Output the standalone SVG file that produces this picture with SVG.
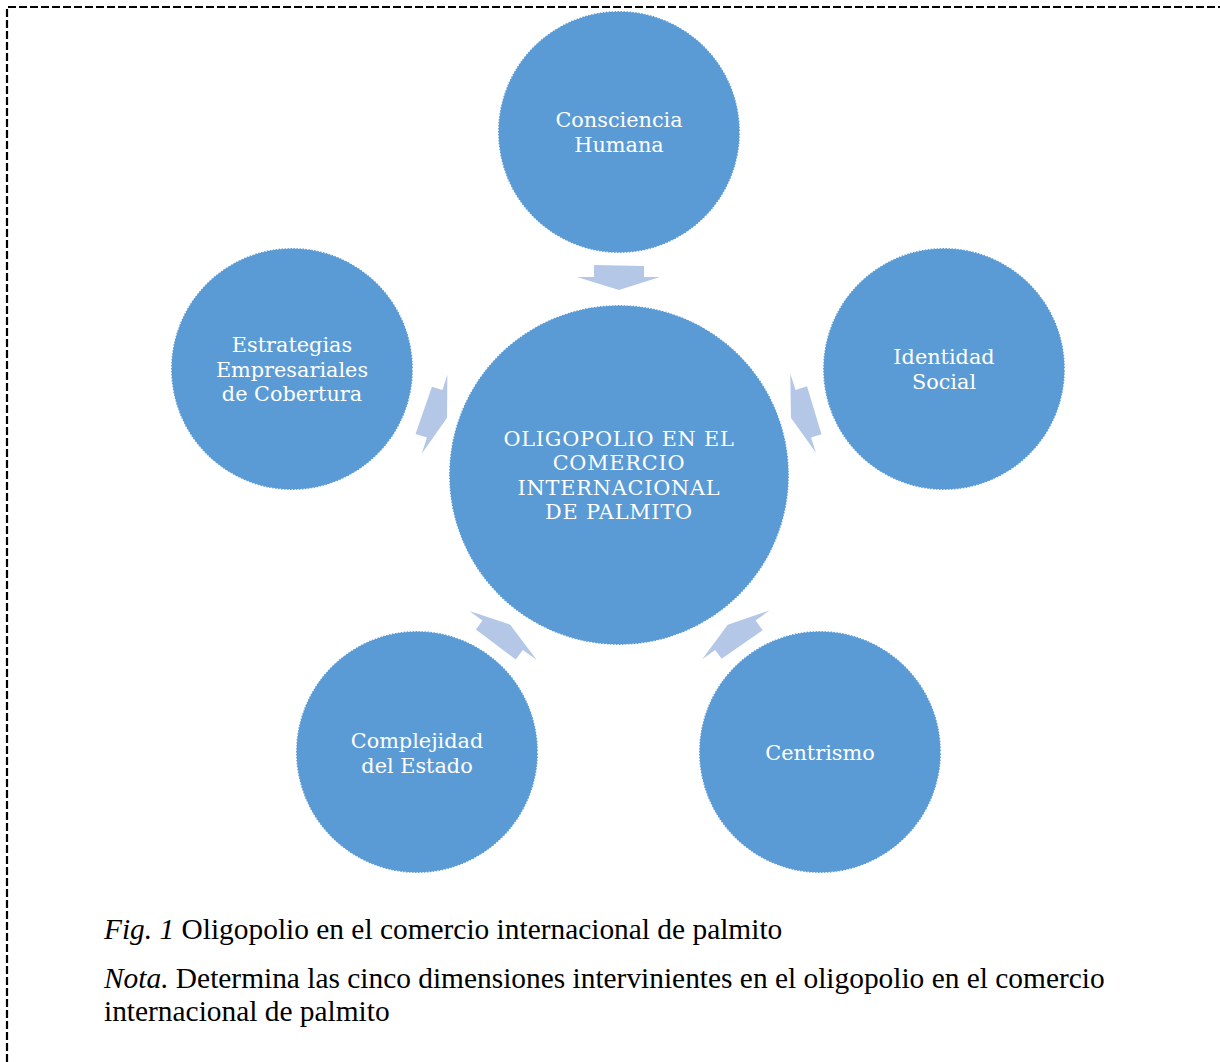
<svg xmlns="http://www.w3.org/2000/svg" width="1220" height="1062" viewBox="0 0 1220 1062">
<style>
.node{fill:#5B9BD5;stroke:#ffffff;stroke-width:1.5;stroke-dasharray:1.5 1.5}
.lbl{font-family:"DejaVu Serif","Liberation Serif",serif;font-size:20.8px;fill:#ffffff;text-anchor:middle}
.caps{letter-spacing:0.8px}
.cap{font-family:"Liberation Serif","Times New Roman",serif;font-size:29.4px;fill:#000000}
.arr{fill:#B4C7E7}
</style>
<defs>
<path id="arrow" d="M594,265 L644,266 L644,277 L660,277 L619,290 L577,277 L594,277 Z"/>
</defs>
<rect x="1" y="1" width="1218" height="1060" fill="#ffffff"/>
<path d="M7,1062 L7,7 L1220,7" fill="none" stroke="#000" stroke-width="2.2" stroke-dasharray="8 3"/>
<g id="connectors">
<use href="#arrow" class="arr"/>
<use href="#arrow" class="arr" transform="translate(-4,0) rotate(72 619 475)"/>
<use href="#arrow" class="arr" transform="rotate(144 619 475)"/>
<use href="#arrow" class="arr" transform="rotate(216 619 475)"/>
<use href="#arrow" class="arr" transform="translate(4,0) rotate(288 619 475)"/>
</g>
<g id="center">
<circle class="node" cx="619" cy="475" r="170"/>
<text class="lbl caps"><tspan x="619" y="445.5">OLIGOPOLIO EN EL</tspan><tspan x="619" y="470">COMERCIO</tspan><tspan x="619" y="494.5">INTERNACIONAL</tspan><tspan x="619" y="519">DE PALMITO</tspan></text>
</g>
<g id="consciencia">
<circle class="node" cx="619" cy="132" r="121"/>
<text class="lbl"><tspan x="619" y="127">Consciencia</tspan><tspan x="619" y="151.5">Humana</tspan></text>
</g>
<g id="identidad">
<circle class="node" cx="944" cy="369" r="121"/>
<text class="lbl"><tspan x="944" y="364">Identidad</tspan><tspan x="944" y="388.5">Social</tspan></text>
</g>
<g id="centrismo">
<circle class="node" cx="820" cy="752" r="121"/>
<text class="lbl" x="820" y="760">Centrismo</text>
</g>
<g id="complejidad">
<circle class="node" cx="417" cy="752" r="121"/>
<text class="lbl"><tspan x="417" y="748">Complejidad</tspan><tspan x="417" y="772.5">del Estado</tspan></text>
</g>
<g id="estrategias">
<circle class="node" cx="292" cy="369" r="121"/>
<text class="lbl"><tspan x="292" y="352">Estrategias</tspan><tspan x="292" y="376.5">Empresariales</tspan><tspan x="292" y="401">de Cobertura</tspan></text>
</g>
<g id="caption">
<text class="cap" x="104" y="939"><tspan font-style="italic">Fig. 1</tspan> Oligopolio en el comercio internacional de palmito</text>
<text class="cap" x="104" y="988"><tspan font-style="italic">Nota.</tspan> Determina las cinco dimensiones intervinientes en el oligopolio en el comercio</text>
<text class="cap" x="104" y="1021">internacional de palmito</text>
</g>
</svg>
